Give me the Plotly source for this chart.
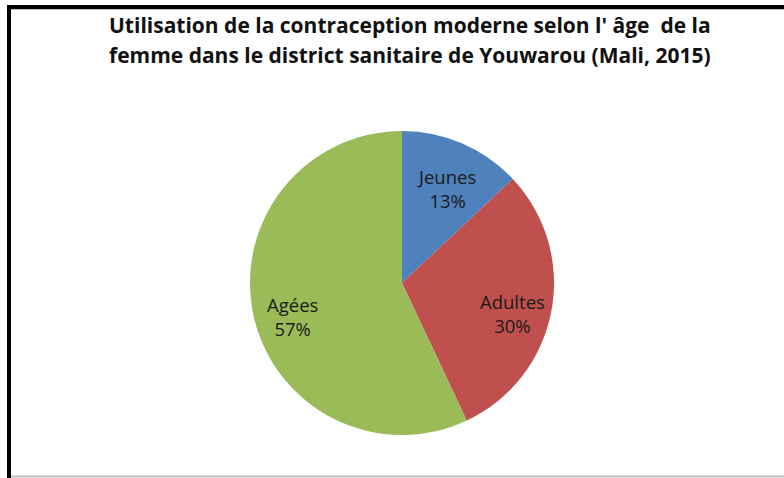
"""
Camembert : utilisation de la contraception moderne selon l'âge (Youwarou, 2015).
"""

import math

import plotly.graph_objects as go

# Données
LABELS = ["Jeunes", "Adultes", "Agées"]
VALUES = [13, 30, 57]
TITLE_LINES = [
    "Utilisation de la contraception moderne selon l' âge  de la",
    "femme dans le district sanitaire de Youwarou (Mali, 2015)",
]

COLORS = ["#4F81BD", "#C0504D", "#9BBB59"]
W, H = 784, 478


def px_x(x):
    return x / W


def px_y(y):
    return 1 - y / H


# pie centré vers (402, 283), rayon ~152 px
cx, cy, r = 402, 283, 152

fig = go.Figure(
    go.Pie(
        labels=LABELS,
        values=VALUES,
        sort=False,
        direction="clockwise",
        rotation=0,
        marker=dict(colors=COLORS, line=dict(width=0)),
        textinfo="none",
        showlegend=False,
        hoverinfo="label+percent",
        domain=dict(x=[px_x(cx - r), px_x(cx + r)], y=[px_y(cy + r), px_y(cy - r)]),
    )
)

# étiquettes façon Excel : au milieu angulaire de chaque part
total = sum(VALUES)
cum = 0
for lab, val in zip(LABELS, VALUES):
    mid = (cum + val / 2) / total * 2 * math.pi
    cum += val
    lx = cx + 0.74 * r * math.sin(mid)
    ly = cy - 0.74 * r * math.cos(mid) + 9
    fig.add_annotation(
        text=f"{lab}<br>{val / total * 100:.0f}%",
        x=px_x(lx), y=px_y(ly),
        xref="paper", yref="paper",
        xanchor="center", yanchor="middle",
        showarrow=False,
        font=dict(family="Open Sans", size=18.5, color="#1a1a1a"),
    )

for line, ypix in zip(TITLE_LINES, [25, 55]):
    fig.add_annotation(
        text=f"<b>{line}</b>",
        x=px_x(410), y=px_y(ypix),
        xref="paper", yref="paper",
        xanchor="center", yanchor="middle",
        showarrow=False,
        font=dict(family="Open Sans", size=21, color="#111111"),
    )

# cadre du graphique
fig.add_shape(type="line", xref="paper", yref="paper",
              x0=px_x(7), x1=1, y0=px_y(7), y1=px_y(7),
              line=dict(color="black", width=4))
fig.add_shape(type="line", xref="paper", yref="paper",
              x0=px_x(11), x1=1, y0=px_y(9.5), y1=px_y(9.5),
              line=dict(color="#BBBBBB", width=1))
fig.add_shape(type="line", xref="paper", yref="paper",
              x0=px_x(9), x1=px_x(9), y0=px_y(5), y1=0,
              line=dict(color="black", width=4))
fig.add_shape(type="line", xref="paper", yref="paper",
              x0=px_x(11), x1=1, y0=px_y(476.5), y1=px_y(476.5),
              line=dict(color="#C0C0C0", width=2))

fig.update_layout(
    width=W,
    height=H,
    margin=dict(l=0, r=0, t=0, b=0),
    paper_bgcolor="white",
    plot_bgcolor="white",
)

fig.write_html(
    "out.html",
    config={"displayModeBar": False},
    post_script="document.body.style.margin='0';",
)
